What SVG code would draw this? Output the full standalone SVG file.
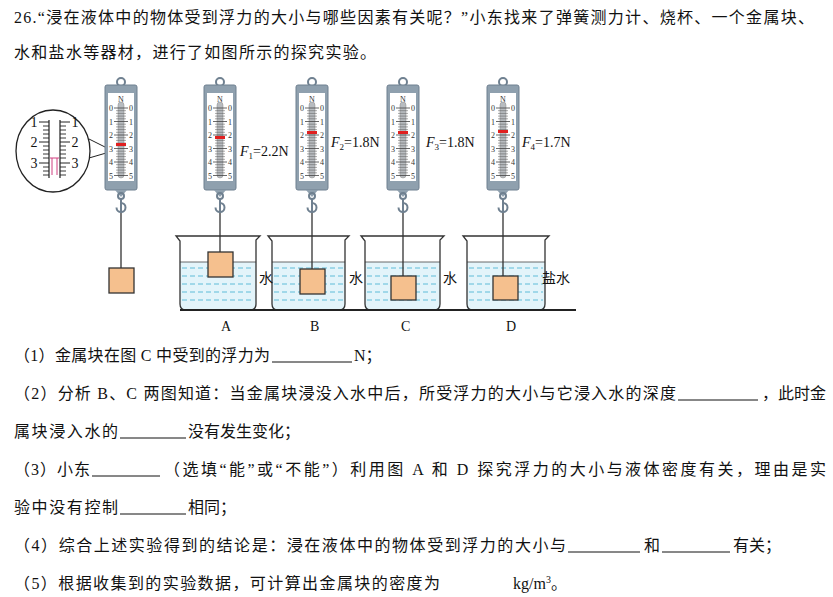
<svg xmlns="http://www.w3.org/2000/svg" xmlns:xlink="http://www.w3.org/1999/xlink" width="833" height="597" viewBox="0 0 833 597">
<style>
.t{font-family:"Liberation Serif","Noto Sans CJK SC",serif;font-size:16px;fill:#111}
.s{font-family:"Liberation Serif",serif;font-size:8px;fill:#333;text-anchor:middle}
.f{font-family:"Liberation Serif",serif;font-size:14px;fill:#111}
.bl{stroke:#111;stroke-width:1}
.blk{fill:#f5c08e;stroke:#333;stroke-width:1.3}
.str{stroke:#333;stroke-width:1.3}
.bk{fill:none;stroke:#333;stroke-width:1.3}
.wl{stroke:#5fbcd8;stroke-width:1;stroke-dasharray:5 3}
</style>
<defs>
<g id="scale">
<circle cx="0" cy="-3" r="4" fill="none" stroke="#6f8090" stroke-width="2"/>
<rect x="-16" y="0" width="32" height="105" rx="2" fill="#8fa0ae" stroke="#6f8090"/>
<rect x="-13" y="8" width="26" height="88" fill="#fff"/>
<rect x="-3" y="17" width="6" height="76" rx="3" fill="#b8bcc0" stroke="#888" stroke-width="0.5"/>
<path d="M-7,23h14M-7,36.5h14M-7,50h14M-7,63.5h14M-7,77h14M-7,90.5h14" stroke="#444" stroke-width="0.8"/>
<path d="M-5,25.7h10M-5,28.4h10M-5,31.1h10M-5,33.8h10M-5,39.2h10M-5,41.9h10M-5,44.6h10M-5,47.3h10M-5,52.7h10M-5,55.4h10M-5,58.1h10M-5,60.8h10M-5,66.2h10M-5,68.9h10M-5,71.6h10M-5,74.3h10M-5,79.7h10M-5,82.4h10M-5,85.1h10M-5,87.8h10" stroke="#555" stroke-width="0.5"/>
<text class="s" x="0" y="17">N</text>
<g class="s"><text x="-10" y="26">0</text><text x="10" y="26">0</text><text x="-10" y="39.5">1</text><text x="10" y="39.5">1</text><text x="-10" y="53">2</text><text x="10" y="53">2</text><text x="-10" y="66.5">3</text><text x="10" y="66.5">3</text><text x="-10" y="80">4</text><text x="10" y="80">4</text><text x="-10" y="93.5">5</text><text x="10" y="93.5">5</text></g>
<path d="M-6,105 L0,112 L6,105Z" fill="#8fa0ae"/>
<circle cx="0" cy="111" r="3" fill="none" stroke="#6f8090" stroke-width="2"/>
<path d="M0,114 v4 a4.5,4.5 0 1 1 -4.5,4.5" fill="none" stroke="#6f8090" stroke-width="2"/>
<line x1="0" y1="118" x2="0" y2="128" stroke="#6f8090" stroke-width="2"/>
</g>
</defs>
<g id="title">
<text class="t" x="14" y="23" textLength="800">26.“浸在液体中的物体受到浮力的大小与哪些因素有关呢？”小东找来了弹簧测力计、烧杯、一个金属块、</text>
<text class="t" x="14" y="58" textLength="362">水和盐水等器材，进行了如图所示的探究实验。</text>
</g>
<g id="magnifier">
<ellipse cx="53" cy="151" rx="37" ry="41" fill="#fff" stroke="#222" stroke-width="1.3"/>
<path d="M89,139 L113,151 M89,158 L113,151" stroke="#222" stroke-width="1"/>
<path d="M49,120V178M60,120V178" stroke="#222" stroke-width="1.2"/>
<path d="M39,122h10M39,142h10M39,163h10M60,122h10M60,142h10M60,163h10" stroke="#222" stroke-width="1"/>
<path d="M43,126h6M43,130h6M43,134h6M43,138h6M43,146h6M43,150h6M43,154h6M43,158h6M43,167h6M43,171h6M43,175h6M60,126h6M60,130h6M60,134h6M60,138h6M60,146h6M60,150h6M60,154h6M60,158h6M60,167h6M60,171h6M60,175h6" stroke="#222" stroke-width="0.9"/>
<path d="M52,158V175M57,158V175M50,158h9" stroke="#d04080" stroke-width="1"/>
<text class="f" x="34" y="127" text-anchor="middle">1</text><text class="f" x="34" y="147" text-anchor="middle">2</text><text class="f" x="34" y="168" text-anchor="middle">3</text>
<text class="f" x="75" y="127" text-anchor="middle">1</text><text class="f" x="75" y="147" text-anchor="middle">2</text><text class="f" x="75" y="168" text-anchor="middle">3</text>
</g>
<g id="beakers">
<rect x="180" y="262" width="76" height="48" fill="#e3f4fa"/>
<rect x="272" y="262" width="73" height="48" fill="#e3f4fa"/>
<rect x="365" y="262" width="75" height="48" fill="#e3f4fa"/>
<rect x="467" y="262" width="78" height="48" fill="#e3f4fa"/>
<g class="wl">
<path d="M182,268H254M182,276H254M182,284H254M182,292H254M182,300H254"/>
<path d="M274,268H343M274,276H343M274,284H343M274,292H343M274,300H343"/>
<path d="M367,268H438M367,276H438M367,284H438M367,292H438M367,300H438"/>
<path d="M469,268H543M469,276H543M469,284H543M469,292H543M469,300H543"/>
</g>
<path d="M180,262H256M272,262H345M365,262H440M467,262H545" stroke="#444" stroke-width="0.8"/>
<path class="bk" d="M176,236H260L256,240V304Q256,310 250,310H186Q180,310 180,304V241Z"/>
<path class="bk" d="M268,236H349L345,240V304Q345,310 339,310H278Q272,310 272,304V241Z"/>
<path class="bk" d="M361,236H444L440,240V304Q440,310 434,310H371Q365,310 365,304V241Z"/>
<path class="bk" d="M463,236H549L545,240V304Q545,310 539,310H473Q467,310 467,304V241Z"/>
<line x1="180" y1="310" x2="576" y2="310" stroke="#222" stroke-width="2"/>
</g>
<g id="scales">
<use xlink:href="#scale" x="121" y="85"/>
<use xlink:href="#scale" x="220" y="85"/>
<use xlink:href="#scale" x="312" y="85"/>
<use xlink:href="#scale" x="403" y="85"/>
<use xlink:href="#scale" x="503" y="85"/>
<rect x="116" y="143" width="10" height="3" fill="#e02020"/>
<rect x="215" y="136" width="10" height="3" fill="#e02020"/>
<rect x="307" y="131" width="10" height="3" fill="#e02020"/>
<rect x="398" y="131" width="10" height="3" fill="#e02020"/>
<rect x="498" y="130" width="10" height="3" fill="#e02020"/>
</g>
<g id="strings">
<path class="str" d="M121,213V268M220,213V252M312,213V269M403,213V276M503,213V276"/>
</g>
<g id="blocks">
<rect class="blk" x="109" y="268" width="25" height="25"/>
<rect class="blk" x="208" y="252" width="25" height="25"/>
<rect class="blk" x="300" y="269" width="25" height="25"/>
<rect class="blk" x="391" y="276" width="25" height="24"/>
<rect class="blk" x="493" y="276" width="25" height="24"/>
</g>
<g id="labels" class="f">
<text x="240" y="156"><tspan font-style="italic">F</tspan><tspan font-size="9" dy="3">1</tspan><tspan dy="-3">=2.2N</tspan></text>
<text x="331" y="147"><tspan font-style="italic">F</tspan><tspan font-size="9" dy="3">2</tspan><tspan dy="-3">=1.8N</tspan></text>
<text x="426" y="147"><tspan font-style="italic">F</tspan><tspan font-size="9" dy="3">3</tspan><tspan dy="-3">=1.8N</tspan></text>
<text x="522" y="147"><tspan font-style="italic">F</tspan><tspan font-size="9" dy="3">4</tspan><tspan dy="-3">=1.7N</tspan></text>
<text x="259" y="283" style="font-family:'Noto Sans CJK SC',sans-serif">水</text>
<text x="349" y="283" style="font-family:'Noto Sans CJK SC',sans-serif">水</text>
<text x="443" y="283" style="font-family:'Noto Sans CJK SC',sans-serif">水</text>
<text x="542" y="283" style="font-family:'Noto Sans CJK SC',sans-serif">盐水</text>
<text x="221" y="331">A</text><text x="310" y="331">B</text><text x="401" y="331">C</text><text x="506" y="331">D</text>
</g>
<g id="questions">
<text class="t" x="14" y="361" textLength="256">（1）金属块在图 C 中受到的浮力为</text>
<line class="bl" x1="272" y1="362" x2="352" y2="362"/>
<text class="t" x="354" y="361">N；</text>
<text class="t" x="14" y="399" textLength="662">（2）分析 B、C 两图知道：当金属块浸没入水中后，所受浮力的大小与它浸入水的深度</text>
<line class="bl" x1="678" y1="400" x2="758" y2="400"/>
<text class="t" x="762" y="399" textLength="64">，此时金</text>
<text class="t" x="14" y="437" textLength="104">属块浸入水的</text>
<line class="bl" x1="120" y1="438" x2="186" y2="438"/>
<text class="t" x="188" y="437" textLength="112">没有发生变化；</text>
<text class="t" x="14" y="475" textLength="76">（3）小东</text>
<line class="bl" x1="92" y1="476" x2="160" y2="476"/>
<text class="t" x="164" y="475" textLength="662">（选填“能”或“不能”）利用图 A 和 D 探究浮力的大小与液体密度有关，理由是实</text>
<text class="t" x="14" y="513" textLength="104">验中没有控制</text>
<line class="bl" x1="120" y1="514" x2="186" y2="514"/>
<text class="t" x="188" y="513" textLength="48">相同；</text>
<text class="t" x="14" y="551" textLength="552">（4）综合上述实验得到的结论是：浸在液体中的物体受到浮力的大小与</text>
<line class="bl" x1="568" y1="552" x2="640" y2="552"/>
<text class="t" x="644" y="551">和</text>
<line class="bl" x1="662" y1="552" x2="730" y2="552"/>
<text class="t" x="733" y="551" textLength="48">有关；</text>
<text class="t" x="14" y="589" textLength="426">（5）根据收集到的实验数据，可计算出金属块的密度为</text>
<text class="t" x="513" y="589">kg/m<tspan font-size="10" dy="-6">3</tspan><tspan dy="6">。</tspan></text>
</g>
</svg>
